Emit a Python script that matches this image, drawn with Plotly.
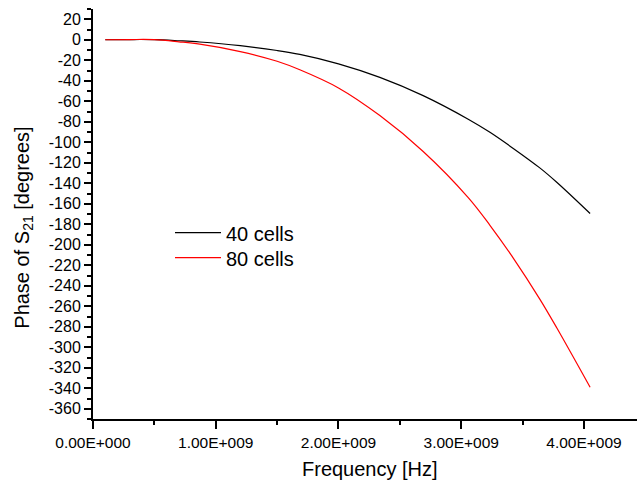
import plotly.graph_objects as go

# ---- data ----
freq = [0.1e9, 0.3e9, 0.5e9, 0.7e9, 0.87e9, 1.2e9, 1.5e9, 1.685e9, 2.0e9, 2.337e9,
        2.69e9, 3.057e9, 3.234e9, 3.424e9, 3.64e9, 3.778e9, 4.05e9]
phase_40 = [0, 0.2, 0.1, -1, -2.2, -5.8, -10.5, -14.3, -23.5, -36.7,
            -54.5, -77.5, -90.3, -106, -125, -139, -169.5]
phase_80 = [0, 0.2, 0.1, -2, -4.3, -11.5, -21, -29.3, -47, -74,
            -109, -154, -181, -213, -253, -281, -339]

series_names = ["40 cells", "80 cells"]

x_tickvals = [0, 1e9, 2e9, 3e9, 4e9]
x_ticktext = ["0.00E+000", "1.00E+009", "2.00E+009", "3.00E+009", "4.00E+009"]
x_minor = [0.5e9, 1.5e9, 2.5e9, 3.5e9]

y_tickvals = list(range(20, -361, -20))
y_ticktext = [str(v) for v in y_tickvals]
y_minor = list(range(30, -371, -20))

FONT = "Liberation Sans, Arial, sans-serif"

fig = go.Figure()
fig.add_trace(go.Scatter(x=freq, y=phase_40, mode="lines", name=series_names[0],
                         legend="legend",
                         line=dict(color="#000000", width=1.2, shape="spline", smoothing=1)))
fig.add_trace(go.Scatter(x=freq, y=phase_80, mode="lines", name=series_names[1],
                         legend="legend2",
                         line=dict(color="#ff0000", width=1.2, shape="spline", smoothing=1)))

axis_common = dict(showgrid=False, zeroline=False, showline=True, linecolor="black",
                   linewidth=2, ticks="outside", tickcolor="black", tickwidth=2,
                   mirror=False)

fig.update_xaxes(**axis_common, range=[0, 4.432e9], tickmode="array",
                 tickvals=x_tickvals, ticktext=x_ticktext, ticklen=8,
                 tickfont=dict(family=FONT, size=15.5, color="black"),
                 minor=dict(tickmode="array", tickvals=x_minor, ticks="outside",
                            ticklen=4, tickwidth=2, tickcolor="black"))
fig.update_yaxes(**axis_common, range=[-370, 30], tickmode="array",
                 tickvals=y_tickvals, ticktext=y_ticktext, ticklen=7,
                 tickfont=dict(family=FONT, size=16, color="black"),
                 minor=dict(tickmode="array", tickvals=y_minor, ticks="outside",
                            ticklen=4, tickwidth=2, tickcolor="black"))

legend_common = dict(xanchor="left", yanchor="top", bgcolor="rgba(0,0,0,0)",
                     font=dict(family=FONT, size=20, color="black"), itemwidth=46)

fig.update_layout(
    width=638, height=487,
    margin=dict(l=93, r=1, t=9, b=68, pad=0),
    paper_bgcolor="white", plot_bgcolor="white",
    font=dict(family=FONT, color="black"),
    showlegend=True,
    legend=dict(**legend_common, x=(170 - 93) / 544, y=(418.6 - 213) / 409.6),
    legend2=dict(**legend_common, x=(170 - 93) / 544, y=(418.6 - 238) / 409.6),
    annotations=[
        dict(text="Frequency [Hz]", xref="paper", yref="paper",
             x=(369.5 - 93) / 544, y=(418.6 - 468.5) / 409.6,
             xanchor="center", yanchor="middle", showarrow=False,
             font=dict(family=FONT, size=20, color="black")),
        dict(text="Phase of S<sub>21</sub> [degrees]", xref="paper", yref="paper",
             x=(23.5 - 93) / 544, y=(418.6 - 228) / 409.6, textangle=-90,
             xanchor="center", yanchor="middle", showarrow=False,
             font=dict(family=FONT, size=20, color="black")),
    ],
)

fig.write_html("out.html")
